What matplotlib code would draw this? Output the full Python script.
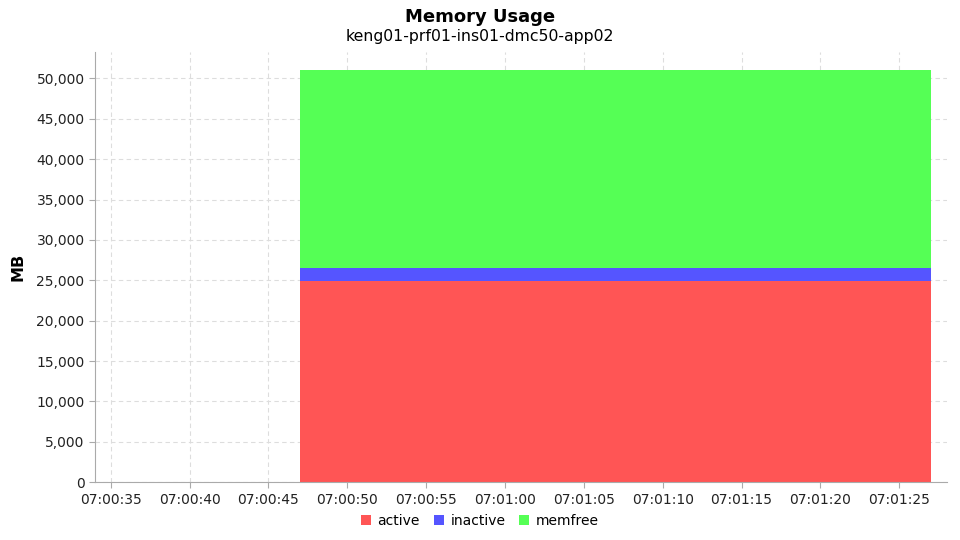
import matplotlib
matplotlib.use("Agg")
import matplotlib.pyplot as plt
import matplotlib.dates as mdates
from matplotlib.ticker import FuncFormatter
from datetime import datetime

# sample times (flat series)
times = ["07:00:47", "07:00:52", "07:00:57", "07:01:02", "07:01:07",
         "07:01:12", "07:01:17", "07:01:22", "07:01:27"]
active = [24940, 24940, 24940, 24940, 24940, 24940, 24940, 24940, 24940]
inactive = [1610, 1610, 1610, 1610, 1610, 1610, 1610, 1610, 1610]
memfree = [24440, 24440, 24440, 24440, 24440, 24440, 24440, 24440, 24440]

labels = ["active", "inactive", "memfree"]
colors = ["#FF5555", "#5555FF", "#55FF55"]

x = [datetime.strptime("2024-01-01 " + t, "%Y-%m-%d %H:%M:%S") for t in times]

fig = plt.figure(figsize=(9.6, 5.4), dpi=100)
ax = fig.add_axes([0.099, 0.107, 0.887, 0.797])

ax.stackplot(x, active, inactive, memfree, labels=labels, colors=colors,
             linewidth=0, zorder=2)

ax.set_xlim(datetime(2024, 1, 1, 7, 0, 34), datetime(2024, 1, 1, 7, 1, 28))
ax.set_ylim(0, 53300)

ax.xaxis.set_major_locator(mdates.SecondLocator(bysecond=range(0, 60, 5)))
ax.xaxis.set_major_formatter(mdates.DateFormatter("%H:%M:%S"))
ax.yaxis.set_major_locator(plt.MultipleLocator(5000))
ax.yaxis.set_major_formatter(FuncFormatter(lambda v, p: f"{int(v):,}"))

ax.grid(True, color="#dddddd", linestyle=(0, (4, 3)), linewidth=0.8, zorder=0)
ax.set_axisbelow(True)

for s in ["top", "right"]:
    ax.spines[s].set_visible(False)
for s in ["left", "bottom"]:
    ax.spines[s].set_color("#aaaaaa")
ax.tick_params(colors="#aaaaaa", labelcolor="#222222", labelsize=10, length=4)

ax.set_ylabel("MB", fontsize=11.5, fontweight="bold", labelpad=8)

fig.text(0.5, 0.968, "Memory Usage", ha="center", va="center",
         fontsize=13, fontweight="bold")
fig.text(0.5, 0.932, "keng01-prf01-ins01-dmc50-app02", ha="center",
         va="center", fontsize=11.3)

fig.legend(loc="center", bbox_to_anchor=(0.5, 0.035), ncol=3, frameon=False,
           fontsize=10, handlelength=0.7, handleheight=0.7, handletextpad=0.5,
           columnspacing=1.0)

fig.savefig("out.png", dpi=100)
